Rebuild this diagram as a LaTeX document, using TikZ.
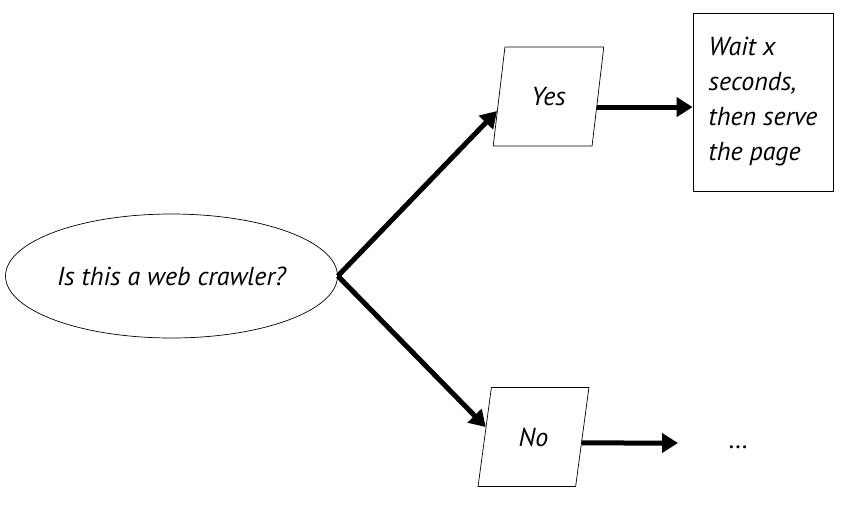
\documentclass[tikz,border=0pt]{standalone}
\usepackage{fontspec}
\setmainfont{PT Sans}
\usetikzlibrary{shapes.geometric,arrows.meta,calc}
\tikzset{
  box/.style={draw, line width=0.7pt, font=\fontsize{26}{35}\selectfont\itshape},
  answer/.style={box, trapezium, trapezium left angle=76, trapezium right angle=104,
    trapezium stretches=true, minimum width=111pt, minimum height=99pt, inner sep=0pt},
  flow/.style={line width=5pt, -{Triangle[length=16pt,width=19pt]}}
}
\begin{document}
\begin{tikzpicture}[x=1pt,y=-1pt]
\useasboundingbox (0,0) rectangle (859,531);

% Question and the two answers
\node[box, ellipse, inner sep=0pt, minimum width=332pt, minimum height=124pt] (crawler) at (171.5,276) {Is this a web crawler?};
\node[answer] (yes) at (548.5,96.5) {Yes};
\node[answer] (no) at (533.5,437) {No};

% What happens next
\node[box, align=left, minimum width=140pt, minimum height=178pt] (wait) at (763,102) {Wait x\\seconds,\\then serve\\the page};
\node[anchor=base, font=\fontsize{26}{35}\selectfont] (more) at (738,448) {\dots};
\coordinate (noend) at (678,443);

% Connectors
\draw[flow] (crawler.east) -- ($(yes.top left corner)!0.646!(yes.bottom left corner)$);
\draw[flow] (crawler.east) -- ($(no.top left corner)!0.4!(no.bottom left corner)$);
\coordinate (yesout) at ($(yes.top right corner)!0.606!(yes.bottom right corner)$);
\draw[flow] (yesout) -- (yesout -| wait.west);
\draw[flow] ($(no.top right corner)!0.56!(no.bottom right corner)$) -- (noend);
\end{tikzpicture}
\end{document}
